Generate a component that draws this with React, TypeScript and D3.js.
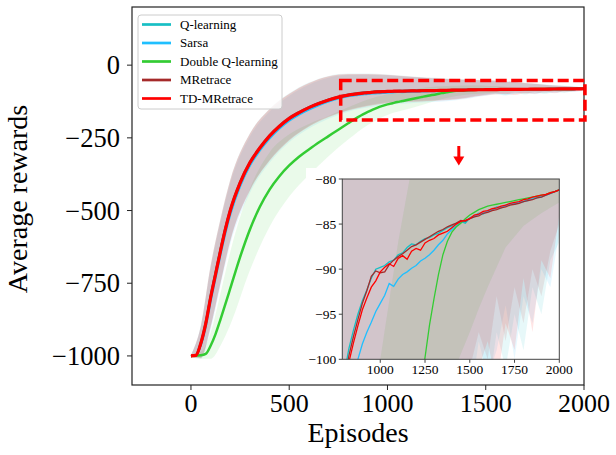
import React from "react";
import * as d3 from "d3";

// episodes at which the mean curves were read
const episodes = [
  0, 25, 50, 75, 100, 125, 150, 175, 200, 250, 300, 350, 400, 450, 500, 550, 600, 650, 700, 750,
  800, 825, 850, 875, 900, 925, 950, 975, 1000, 1025, 1050, 1075, 1100, 1125, 1150, 1175, 1200,
  1225, 1250, 1275, 1300, 1325, 1350, 1375, 1400, 1425, 1450, 1475, 1500, 1525, 1550, 1575, 1600,
  1625, 1650, 1675, 1700, 1725, 1750, 1775, 1800, 1825, 1850, 1875, 1900, 1925, 1950, 1975, 2000,
];

const qLearning = [
  -1000, -998, -955, -886, -796, -715, -636, -562, -498, -403, -334, -284, -242, -209, -182, -162, -145, -131, -119, -109,
  -101.5, -98.8, -96.8, -95.0, -93.5, -92.3, -91.0, -90.0, -89.8, -89.6, -89.2, -89.0, -88.4, -88.2, -87.6, -87.2, -87.3,
  -86.9, -86.6, -86.5, -86.2, -86.0, -85.7, -85.4, -85.2, -84.9, -84.7, -84.9, -84.3, -84.1, -83.8, -83.9, -83.5,
  -83.4, -83.1, -83.2, -82.9, -82.8, -82.8, -82.6, -82.5, -82.3, -82.2, -82.0, -81.9, -81.8, -81.6, -81.4, -81.2,
];

const sarsa = [
  -1000, -998, -962, -898, -810, -730, -650, -576, -512, -415, -344, -293, -251, -217, -190, -169, -152, -137, -124, -114,
  -106, -104, -101.8, -100.0, -98.3, -97.0, -95.9, -94.7, -93.8, -92.9, -91.6, -91.9, -91.1, -90.6, -90.3, -89.9, -89.6,
  -89.1, -88.8, -88.4, -87.9, -87.3, -86.8, -86.1, -85.6, -85.2, -84.8, -84.6, -84.4, -84.2, -83.9, -83.8, -83.6,
  -83.4, -83.2, -83.1, -83.0, -82.8, -82.7, -82.6, -82.5, -82.4, -82.2, -82.1, -82.0, -81.8, -81.6, -81.4, -81.2,
];

const doubleQ = [
  -1000, -999, -998, -993, -965, -925, -875, -822, -768, -660, -565, -488, -428, -382, -345, -315, -290, -266, -244, -222,
  -200, -189, -179, -169.5, -161, -153, -146, -140, -135, -131, -127, -123.5, -120, -116.5, -113, -109.5, -106,
  -103, -99.8, -96.2, -93.3, -90.6, -88.4, -86.9, -85.9, -85.3, -84.9, -84.4, -84.0, -83.7, -83.4, -83.2, -83.0,
  -82.9, -82.8, -82.7, -82.6, -82.5, -82.4, -82.3, -82.2, -82.1, -82.0, -81.9, -81.8, -81.7, -81.5, -81.4, -81.2,
];

const mRetrace = [
  -1000, -998, -958, -889, -799, -718, -638, -564, -500, -405, -336, -286, -244, -211, -184, -163, -146, -132, -120, -110,
  -102.5, -99.6, -97.5, -95.6, -93.8, -92.4, -90.8, -90.2, -90.4, -90.3, -89.5, -89.0, -88.6, -88.3, -87.9, -87.5, -87.3,
  -87.0, -86.7, -86.4, -86.1, -85.8, -85.6, -85.3, -85.1, -84.9, -84.6, -84.7, -84.4, -84.2, -84.1, -83.8, -83.7,
  -83.5, -83.4, -83.2, -83.1, -82.9, -82.8, -82.7, -82.5, -82.4, -82.3, -82.1, -82.0, -81.8, -81.6, -81.4, -81.2,
];

const tdMRetrace = [
  -1000, -998, -957, -890, -800, -720, -640, -565, -500, -405, -335, -285, -243, -210, -183, -163, -146, -132, -120, -110,
  -103, -100.3, -98.2, -96.3, -94.5, -93.2, -92.0, -91.3, -90.3, -89.8, -89.4, -89.7, -88.8, -88.5, -88.9, -88.0, -87.7,
  -87.9, -87.1, -86.8, -86.6, -86.2, -86.0, -85.8, -85.4, -85.0, -84.7, -84.6, -84.4, -84.0, -83.9, -83.6, -83.5,
  -83.3, -83.2, -83.0, -82.9, -82.7, -82.6, -82.5, -82.3, -82.2, -82.0, -81.9, -81.8, -81.7, -81.5, -81.4, -81.2,
];

// shaded spread around each curve
const bandEpisodes = [
  0, 50, 100, 150, 200, 300, 400, 500, 600, 700, 800, 900, 1000, 1100, 1200, 1300, 1400,
  1450, 1500, 1550, 1600, 1650, 1700, 1750, 1800, 1850, 1900, 1950, 2000,
];

const qLearningHi = [-997, -895, -688, -528, -393, -234, -150, -97, -60, -37, -29, -29, -32, -37, -42, -46, -49, -50, -51, -53, -55, -57, -60, -63, -66, -69, -71, -73, -74];
const qLearningLo = [-1003, -1006, -898, -748, -602, -428, -326, -256, -209, -176, -153, -138, -128, -124, -121, -118, -111, -105, -103, -100, -104, -97, -101, -95, -99, -92, -95, -89, -87];

const sarsaHi = [-997, -900, -700, -540, -405, -245, -159, -105, -67, -43, -34, -33, -35, -40, -44, -48, -51, -52, -53, -55, -57, -59, -62, -65, -68, -70, -72, -74, -75];
const sarsaLo = [-1003, -1010, -910, -760, -617, -440, -336, -265, -218, -184, -160, -146, -136, -132, -128, -124, -116, -110, -105, -98, -102, -99, -94, -100, -93, -96, -90, -92, -86];

const doubleQHi = [-997, -986, -920, -785, -643, -425, -300, -238, -202, -175, -145, -118, -100, -87, -76, -72, -70, -70, -71, -72, -74, -76, -78, -78.5, -79.2, -79.5, -79.8, -79.8, -79.8];
const doubleQLo = [-1003, -1010, -1010, -965, -893, -705, -556, -452, -378, -313, -256, -206, -171, -152, -132, -113, -102, -99.4, -97, -94.4, -92, -89.8, -87.6, -86.4, -85.2, -84.5, -83.8, -83.2, -82.6];

const mRetraceHi = [-997, -898, -691, -531, -396, -236, -152, -99, -62, -39, -31, -31, -34, -39, -44, -48, -50, -51, -52, -54, -56, -58, -61, -64, -67, -70, -72, -74, -75];
const mRetraceLo = [-1003, -1008, -901, -751, -606, -431, -329, -259, -212, -179, -156, -141, -131, -127, -124, -121, -114, -108, -101, -97, -100, -93, -98, -92, -96, -90, -93, -88, -85];

const tdMRetraceHi = [-997, -897, -690, -530, -395, -235, -151, -98, -61, -38, -30, -30, -33, -38, -43, -47, -50, -51, -52, -54, -56, -58, -61, -64, -67, -70, -72, -74, -75];
const tdMRetraceLo = [-1003, -1007, -900, -750, -605, -430, -328, -258, -211, -178, -155, -140, -130, -126, -123, -120, -113, -107, -104, -101, -98, -103, -96, -99, -91, -97, -89, -91, -84];

const mainXTicks = [0, 500, 1000, 1500, 2000];
const mainYTicks = [-1000, -750, -500, -250, 0];
const insetXTicks = [1000, 1250, 1500, 1750, 2000];
const insetYTicks = [-100, -95, -90, -85, -80];

// zoom highlight (episodes / reward) and the arrow under it
const zoomBox = { x0: 762, x1: 2005, y0: -189, y1: -53 };
const arrowEpisode = 1363;
const arrowRewards = [-278, -345];

const series = [
  { name: "Q-learning", color: "#17bfc4", mean: qLearning, lo: qLearningLo, hi: qLearningHi, w: 2.5 },
  { name: "Sarsa", color: "#1fbfff", mean: sarsa, lo: sarsaLo, hi: sarsaHi, w: 2.5 },
  { name: "Double Q-learning", color: "#33cc33", mean: doubleQ, lo: doubleQLo, hi: doubleQHi, w: 2.5 },
  { name: "MRetrace", color: "#a52a2a", mean: mRetrace, lo: mRetraceLo, hi: mRetraceHi, w: 2.5 },
  { name: "TD-MRetrace", color: "#ff0000", mean: tdMRetrace, lo: tdMRetraceLo, hi: tdMRetraceHi, w: 3.2 },
];

const FONT = '"Liberation Serif", "DejaVu Serif", serif';
const fmt = d3.format("d");

export default function App() {
  // main axes
  const x = d3.scaleLinear().domain([-300, 2000]).range([132, 584]);
  const y = d3.scaleLinear().domain([-1100, 200]).range([385, 7]);
  // inset axes
  const ix = d3.scaleLinear().domain([788, 2000]).range([342.3, 559.3]);
  const iy = d3.scaleLinear().domain([-100, -80]).range([359.3, 179]);

  const mainLine = (vals: number[]) =>
    d3.line<number>().x((_, i) => x(episodes[i])).y((d) => y(d)).curve(d3.curveMonotoneX)(vals) || "";
  const mainBand = (lo: number[], hi: number[]) =>
    d3.area<number>().x((_, i) => x(bandEpisodes[i])).y0((_, i) => y(lo[i])).y1((_, i) => y(hi[i])).curve(d3.curveMonotoneX)(lo) || "";
  const insetLine = (vals: number[]) =>
    d3.line<number>().x((_, i) => ix(episodes[i])).y((d) => iy(d))(vals) || "";
  const insetBand = (lo: number[], hi: number[]) =>
    d3.area<number>().x((_, i) => ix(bandEpisodes[i])).y0((_, i) => iy(lo[i])).y1((_, i) => iy(hi[i]))(lo) || "";

  const [mx0, mx1] = x.range();
  const [my0, my1] = y.range();
  const [ix0, ix1] = ix.range();
  const [iy0, iy1] = iy.range();

  const ax = x(arrowEpisode);
  const aTail = y(arrowRewards[0]);
  const aTip = y(arrowRewards[1]);

  const txt = { fontFamily: FONT };

  return (
    <svg width={616} height={455} style={{ position: "absolute", left: 0, top: 0, background: "#fff", fontFamily: FONT }}>
      <defs>
        <clipPath id="mainClip">
          <rect x={mx0} y={my1} width={mx1 - mx0} height={my0 - my1} />
        </clipPath>
        <clipPath id="insetClip">
          <rect x={ix0} y={iy1} width={ix1 - ix0} height={iy0 - iy1} />
        </clipPath>
      </defs>

      <rect width={616} height={455} fill="#fff" />

      <g clipPath="url(#mainClip)">
        {series.map((s) => (
          <path key={s.name + "b"} d={mainBand(s.lo, s.hi)} fill={s.color} fillOpacity={0.1} />
        ))}
        {series.map((s) => (
          <path key={s.name} d={mainLine(s.mean)} fill="none" stroke={s.color} strokeWidth={s.w} />
        ))}
      </g>

      {/* main frame and ticks */}
      <rect x={mx0} y={my1} width={mx1 - mx0} height={my0 - my1} fill="none" stroke="#222" strokeWidth={1.2} />
      {mainXTicks.map((t) => (
        <g key={"mx" + t}>
          <line x1={x(t)} x2={x(t)} y1={my0} y2={my0 + 5} stroke="#222" strokeWidth={1} />
          <text style={txt} x={x(t)} y={412} textAnchor="middle" fontSize={26} fill="#000">{fmt(t)}</text>
        </g>
      ))}
      {mainYTicks.map((t) => (
        <g key={"my" + t}>
          <line x1={mx0 - 5} x2={mx0} y1={y(t)} y2={y(t)} stroke="#222" strokeWidth={1} />
          <text style={txt} x={mx0 - 12} y={y(t)} dy="0.34em" textAnchor="end" fontSize={26.5} fill="#000">{fmt(t)}</text>
        </g>
      ))}
      <text style={txt} x={(mx0 + mx1) / 2} y={442} textAnchor="middle" fontSize={28} fill="#000">Episodes</text>
      <text style={txt} transform={`translate(27,${(my0 + my1) / 2 + 3}) rotate(-90)`} textAnchor="middle" fontSize={28} fill="#000">
        Average rewards
      </text>

      {/* zoom highlight */}
      <rect
        x={x(zoomBox.x0)}
        y={y(zoomBox.y1)}
        width={x(zoomBox.x1) - x(zoomBox.x0)}
        height={y(zoomBox.y0) - y(zoomBox.y1)}
        fill="none"
        stroke="#ff0000"
        strokeWidth={3.5}
        strokeDasharray="11 4.5"
      />
      <line x1={ax} x2={ax} y1={aTail} y2={aTip - 8} stroke="#ff0000" strokeWidth={3} />
      <path d={`M${ax - 5.5},${aTip - 9} L${ax + 5.5},${aTip - 9} L${ax},${aTip} Z`} fill="#ff0000" />

      {/* legend */}
      <g>
        <rect x={138} y={15} width={144} height={94} rx={3} fill="#fff" fillOpacity={0.8} stroke="#cccccc" strokeWidth={1} />
        {series.map((s, i) => (
          <g key={"lg" + s.name} transform={`translate(0,${24.5 + i * 18.5})`}>
            <line x1={142} x2={171} y1={0} y2={0} stroke={s.color} strokeWidth={2.7} />
            <text style={txt} x={180} y={0} dy="0.33em" fontSize={13} fill="#000">{s.name}</text>
          </g>
        ))}
      </g>

      {/* inset */}
      <rect x={306} y={168} width={260} height={212} fill="#fff" />
      <g clipPath="url(#insetClip)">
        {series.map((s) => (
          <path key={s.name + "ib"} d={insetBand(s.lo, s.hi)} fill={s.color} fillOpacity={0.1} />
        ))}
        {series.map((s) => (
          <path key={s.name + "il"} d={insetLine(s.mean)} fill="none" stroke={s.color} strokeWidth={1.3} />
        ))}
      </g>
      <rect x={ix0} y={iy1} width={ix1 - ix0} height={iy0 - iy1} fill="none" stroke="#444" strokeWidth={1} />
      {insetXTicks.map((t) => (
        <g key={"ix" + t}>
          <line x1={ix(t)} x2={ix(t)} y1={iy0} y2={iy0 + 3.5} stroke="#444" strokeWidth={1} />
          <text style={txt} x={ix(t)} y={374} textAnchor="middle" fontSize={13.5} fill="#000">{fmt(t)}</text>
        </g>
      ))}
      {insetYTicks.map((t) => (
        <g key={"iy" + t}>
          <line x1={ix0 - 3.5} x2={ix0} y1={iy(t)} y2={iy(t)} stroke="#444" strokeWidth={1} />
          <text style={txt} x={ix0 - 6} y={iy(t)} dy="0.34em" textAnchor="end" fontSize={13.5} fill="#000">{fmt(t)}</text>
        </g>
      ))}
    </svg>
  );
}
